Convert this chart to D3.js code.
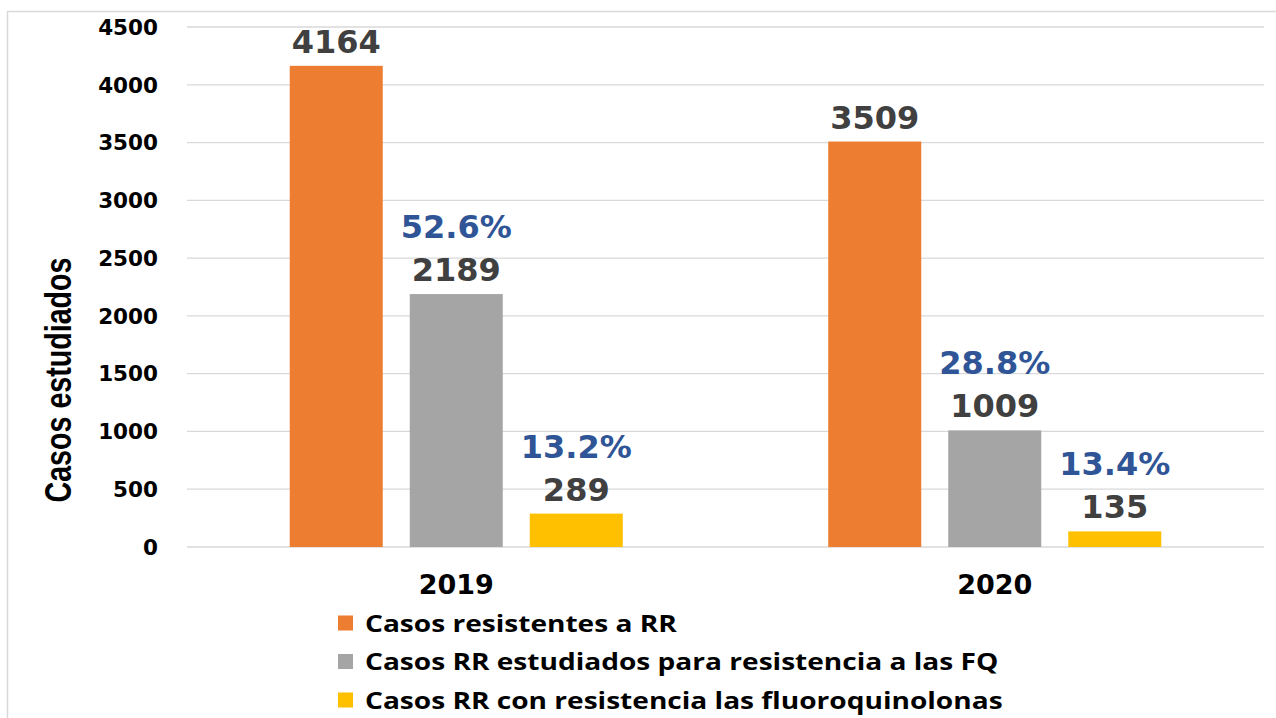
<!DOCTYPE html>
<html>
<head>
<meta charset="utf-8">
<script src="https://cdn.jsdelivr.net/npm/d3@7"></script>
<style>
  body { margin: 0; background: #fff; }
  svg { display: block; }
</style>
</head>
<body>
<svg width="1276" height="718"></svg>
<script>
const years = ['2019', '2020'];
const series = [
  'Casos resistentes a RR',
  'Casos RR estudiados para resistencia a las FQ',
  'Casos RR con resistencia las fluoroquinolonas'
];
const resistentes = [4164, 3509];
const estudiados = [2189, 1009];
const conResistencia = [289, 135];
const pctEstudiados = ['52.6%', '28.8%'];
const pctResistencia = ['13.2%', '13.4%'];
const yTicks = [0, 500, 1000, 1500, 2000, 2500, 3000, 3500, 4000, 4500];
const colors = ['#ED7D31', '#A5A5A5', '#FFC000'];

const svg = d3.select('svg');

// outer frame
svg.append('path')
  .attr('d', 'M7.5,718 V11.5 H1276')
  .attr('fill', 'none')
  .attr('stroke', '#d9d9d9')
  .attr('stroke-width', 1.5);

const x = d3.scaleBand().domain(years).range([187, 1264]);
const xi = d3.scaleBand().domain(d3.range(3)).range([0, x.bandwidth()])
  .paddingInner(0.225).paddingOuter(0.856);
const y = d3.scaleLinear().domain([0, 4500]).range([547, 27]);

// grid
svg.append('g')
  .selectAll('line')
  .data(yTicks)
  .join('line')
  .attr('x1', 187).attr('x2', 1264)
  .attr('y1', d => y(d)).attr('y2', d => y(d))
  .attr('stroke', '#d9d9d9')
  .attr('stroke-width', 1.3);

// y tick labels
svg.append('g')
  .selectAll('text')
  .data(yTicks)
  .join('text')
  .attr('x', 158)
  .attr('y', d => y(d))
  .attr('dy', '0.36em')
  .attr('text-anchor', 'end')
  .attr('font-family', 'DejaVu Sans')
  .attr('font-weight', 'bold')
  .attr('font-size', 21.5)
  .attr('fill', '#000')
  .text(d => d);

// y title
svg.append('text')
  .attr('transform', 'translate(71,380) rotate(-90)')
  .attr('text-anchor', 'middle')
  .attr('font-family', 'Liberation Sans Narrow, Liberation Sans, sans-serif')
  .attr('font-weight', 'bold')
  .attr('font-size', 37)
  .attr('textLength', 245)
  .attr('lengthAdjust', 'spacingAndGlyphs')
  .attr('fill', '#000')
  .text('Casos estudiados');

const rows = years.map((yr, i) => ({
  year: yr,
  values: [resistentes[i], estudiados[i], conResistencia[i]],
  pcts: [null, pctEstudiados[i], pctResistencia[i]]
}));

const groups = svg.append('g')
  .selectAll('g')
  .data(rows)
  .join('g')
  .attr('transform', d => `translate(${x(d.year)},0)`);

const cells = groups.selectAll('g')
  .data(d => d.values.map((v, k) => ({ v, k, pct: d.pcts[k] })))
  .join('g');

cells.append('rect')
  .attr('x', d => xi(d.k))
  .attr('width', xi.bandwidth())
  .attr('y', d => y(d.v))
  .attr('height', d => y(0) - y(d.v))
  .attr('fill', d => colors[d.k]);

cells.append('text')
  .attr('x', d => xi(d.k) + xi.bandwidth() / 2)
  .attr('y', d => y(d.v) - 13)
  .attr('text-anchor', 'middle')
  .attr('font-family', 'DejaVu Sans')
  .attr('font-weight', 'bold')
  .attr('font-size', 32)
  .attr('fill', '#404040')
  .text(d => d.v);

cells.filter(d => d.pct)
  .append('text')
  .attr('x', d => xi(d.k) + xi.bandwidth() / 2)
  .attr('y', d => y(d.v) - 56)
  .attr('text-anchor', 'middle')
  .attr('font-family', 'DejaVu Sans')
  .attr('font-weight', 'bold')
  .attr('font-size', 32)
  .attr('fill', '#2F5597')
  .text(d => d.pct);

// x labels
svg.append('g')
  .selectAll('text')
  .data(years)
  .join('text')
  .attr('x', d => x(d) + x.bandwidth() / 2)
  .attr('y', 594)
  .attr('text-anchor', 'middle')
  .attr('font-family', 'DejaVu Sans')
  .attr('font-weight', 'bold')
  .attr('font-size', 27)
  .attr('fill', '#000')
  .text(d => d);

// legend
const legend = svg.append('g')
  .selectAll('g')
  .data(series)
  .join('g')
  .attr('transform', (d, i) => `translate(338,${623 + i * 38.5})`);

legend.append('rect')
  .attr('x', 0).attr('y', -7.5)
  .attr('width', 15).attr('height', 15)
  .attr('fill', (d, i) => colors[i]);

legend.append('text')
  .attr('transform', 'translate(27,0) scale(1.17,1)')
  .attr('dy', '0.36em')
  .attr('font-family', 'Open Sans')
  .attr('font-weight', 'bold')
  .attr('font-size', 24)
  .attr('fill', '#000')
  .text(d => d);
</script>
</body>
</html>
